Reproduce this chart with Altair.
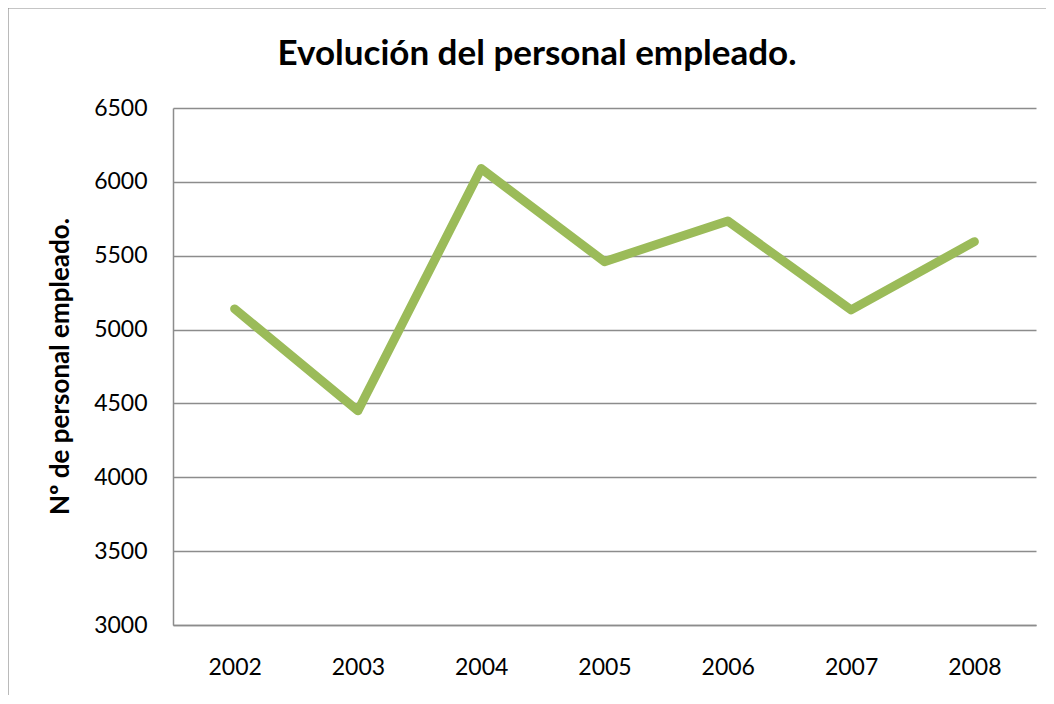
import altair as alt
import pandas as pd

# Data
years = ["2002", "2003", "2004", "2005", "2006", "2007", "2008"]
empleados = [5140, 4450, 6090, 5460, 5735, 5133, 5595]
y_ticks = [3000, 3500, 4000, 4500, 5000, 5500, 6000, 6500]

title_text = "Evolución del personal empleado."
y_title = "Nº de personal empleado."

df = pd.DataFrame({"year": years, "empleados": empleados})

FONT = "Lato"
GRID = "#8c8c8c"

base = alt.Chart(df)

line = base.mark_line(
    color="#9BBB59", strokeWidth=9, strokeCap="round", strokeJoin="round"
).encode(
    x=alt.X(
        "year:O",
        sort=years,
        scale=alt.Scale(type="point", padding=0.5),
        axis=alt.Axis(
            title=None,
            labelAngle=0,
            labelFont=FONT,
            labelFontSize=23,
            labelColor="#000000",
            labelPadding=31,
            ticks=False,
            domainColor=GRID,
            domainWidth=1.5,
            grid=False,
        ),
    ),
    y=alt.Y(
        "empleados:Q",
        scale=alt.Scale(domain=[3000, 6500], nice=False, zero=False),
        axis=alt.Axis(
            title=y_title,
            values=y_ticks,
            format="d",
            labelFont=FONT,
            labelFontSize=23,
            labelColor="#000000",
            labelPadding=26,
            ticks=False,
            domainColor=GRID,
            domainWidth=1.5,
            grid=True,
            gridColor=GRID,
            gridWidth=1.5,
            titleFont=FONT,
            titleFontSize=26,
            titleFontWeight="bold",
            titleColor="#000000",
            titleAngle=270,
            titleAlign="center",
            titleBaseline="middle",
            titleX=-113,
            titleY=258,
        ),
    ),
)

one = alt.Data(values=[{"k": 1}])

title = alt.Chart(one).mark_text(
    text=title_text,
    font=FONT,
    fontSize=35,
    fontWeight="bold",
    color="#000000",
    align="center",
    baseline="alphabetic",
).encode(x=alt.value(364), y=alt.value(-43))

frame_left = alt.Chart(one).mark_rule(color=GRID, strokeWidth=1.2).encode(
    x=alt.value(-165), y=alt.value(-100), y2=alt.value(700)
)
frame_top = alt.Chart(one).mark_rule(color=GRID, strokeWidth=1.2).encode(
    x=alt.value(-165), x2=alt.value(900), y=alt.value(-100)
)

chart = (
    alt.layer(frame_left, frame_top, line, title)
    .properties(
        width=863,
        height=517,
        autosize=alt.AutoSizeParams(type="none"),
        padding={"left": 165, "top": 100, "right": 10, "bottom": 70},
        background="#ffffff",
    )
    .configure_view(stroke=None)
)

chart.save("out.html", embed_options={"renderer": "svg", "actions": False})
